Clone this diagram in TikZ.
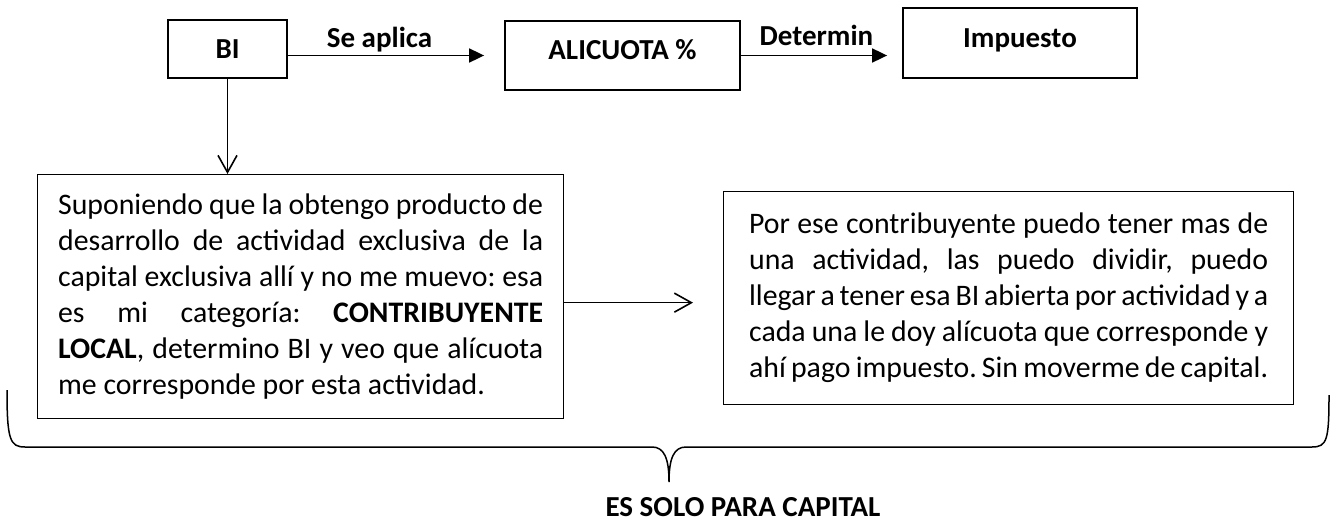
\documentclass[tikz,border=0pt]{standalone}
\usepackage{fontspec}
\setmainfont{Carlito}
\usetikzlibrary{arrows.meta}
\hyphenpenalty=10000
\exhyphenpenalty=10000
\frenchspacing

\begin{document}
\begin{tikzpicture}[x=1pt,y=-1pt,
    font=\fontsize{29.8}{36}\selectfont,
    caja/.style={draw, line width=1.8pt, font=\fontsize{29}{36}\selectfont\bfseries, inner sep=0pt, text height=19pt},
    texto/.style={draw, line width=1.3pt, align=justify, inner ysep=0pt, anchor=north west},
    flecha/.style={line width=1.8pt, -{Triangle[length=15pt,width=14pt]}},
    abierta/.style={line width=1.6pt, -{Straight Barb[length=17pt,width=19pt]}},
    etiqueta/.style={font=\fontsize{29}{36}\selectfont\bfseries, anchor=base, inner sep=0pt}]
    \useasboundingbox (0,0) rectangle (1332,522);
    % top row
    \node[caja, minimum width=119pt, minimum height=58pt, text depth=0pt] (bi) at (227.5,49) {BI};
    \node[caja, minimum width=235pt, minimum height=69pt, text depth=11pt] (alicuota) at (622.5,55.5) {ALICUOTA \%};
    \node[caja, minimum width=234pt, minimum height=70pt, text depth=11pt] (impuesto) at (1020,43) {Impuesto};
    \draw[flecha, shorten >=20pt] (bi.east |- alicuota.west) -- (alicuota.west);
    \draw[flecha, shorten >=15pt] (alicuota.east) -- (alicuota.east -| impuesto.west);
    \node[etiqueta] (seaplica) at (379.5,47) {Se aplica};
    \node[etiqueta] (determin) at (816.5,45) {Determin};
    % text boxes
    \node[texto, text width=485pt, inner xsep=20.5pt, minimum height=244pt] (local) at (37,174)
        {Suponiendo que la obtengo producto de\linebreak desarrollo de actividad exclusiva de la\linebreak capital exclusiva allí y no me muevo: esa\linebreak es mi categoría: \textbf{CONTRIBUYENTE}\linebreak \textbf{LOCAL}, determino BI y veo que alícuota\linebreak me corresponde por esta actividad.};
    \node[texto, text width=519pt, inner xsep=25.5pt, minimum height=213pt] (varias) at (723,191)
        {Por ese contribuyente puedo tener mas de\linebreak una actividad, las puedo dividir, puedo\linebreak llegar a tener esa BI abierta por actividad y a\linebreak cada una le doy alícuota que corresponde y\linebreak ahí pago impuesto. Sin moverme de capital.};
    \draw[abierta] (bi.south) -- (bi.south |- local.north);
    \draw[abierta, shorten >=30pt] ([yshift=-6pt]local.east) -- ([yshift=-6pt]local.east -| varias.west);
    % brace
    \coordinate (llaveizq) at (7,390);
    \coordinate (punta) at (669,482);
    \coordinate (llaveder) at (1329,395);
    \draw[line width=1.5pt] (llaveizq) .. controls (7,440) and (10,447) .. (25,447) -- (652,447)
        .. controls (664,447) and (669,458) .. (punta)
        .. controls (669,458) and (674,447) .. (686,447) -- (1312,447)
        .. controls (1327,447) and (1329,440) .. (llaveder);
    \node[etiqueta] (capital) at (743,516) {ES SOLO PARA CAPITAL};
\end{tikzpicture}
\end{document}
